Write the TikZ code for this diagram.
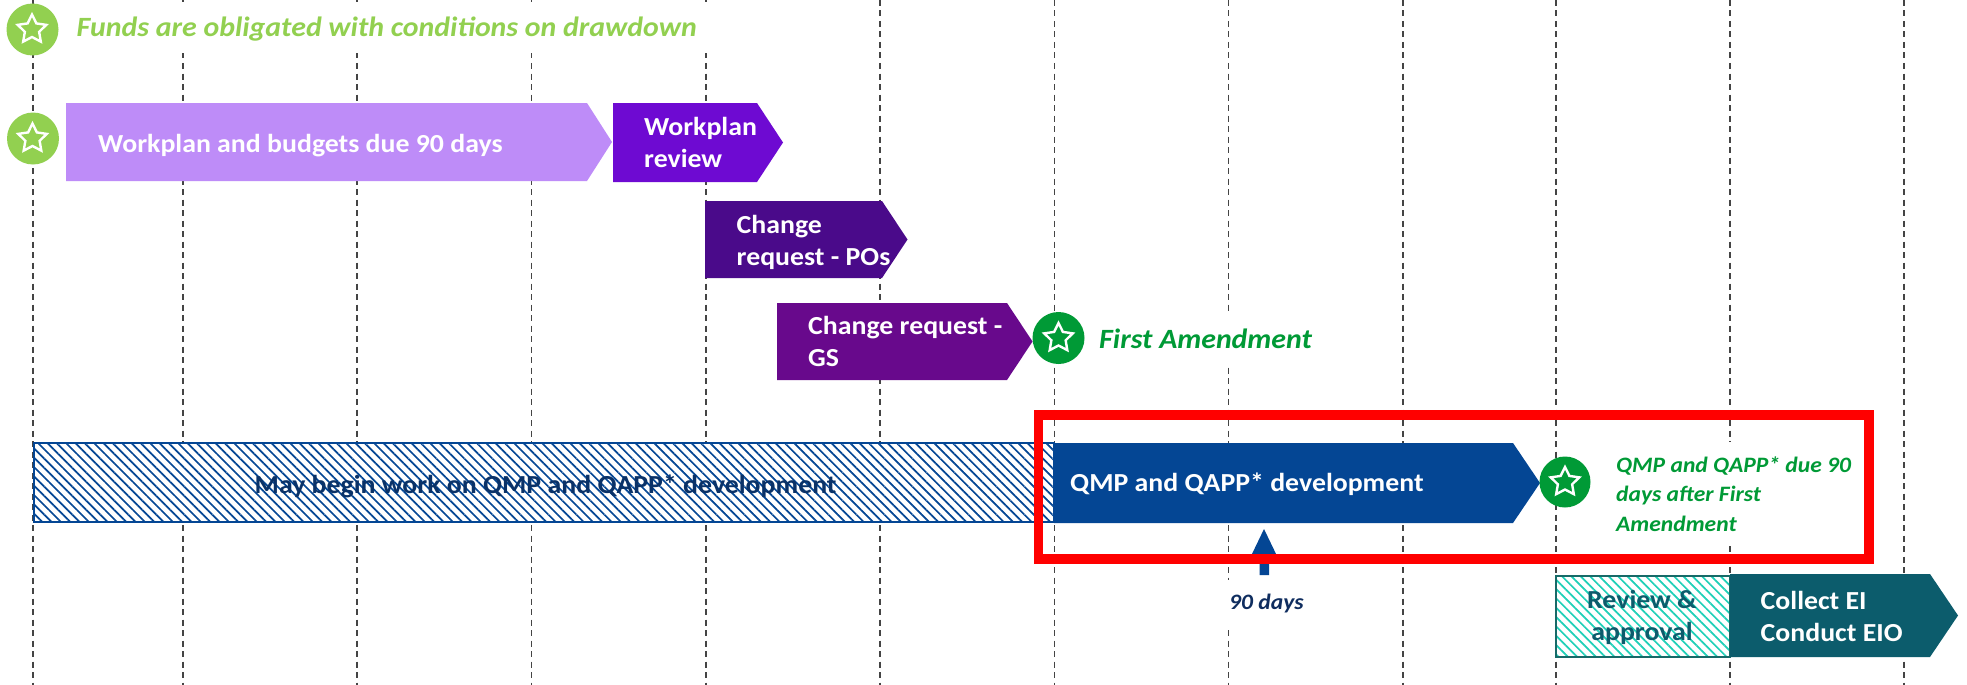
\documentclass[tikz,border=0pt]{standalone}
\usepackage{fontspec}
\setmainfont{Carlito}[FakeStretch=1.07]
\usetikzlibrary{shapes.geometric,patterns.meta}
\definecolor{lgreen}{HTML}{92D050}
\definecolor{dgreen}{HTML}{009A36}
\definecolor{lilac}{HTML}{BE8CF8}
\definecolor{vio}{HTML}{6E0AD2}
\definecolor{dvio}{HTML}{4A0A8A}
\definecolor{pur}{HTML}{68098C}
\definecolor{qblue}{HTML}{044694}
\definecolor{qnavy}{HTML}{0A3268}
\definecolor{tealb}{HTML}{0C5C6C}
\definecolor{tealh}{HTML}{1FD0B8}
\definecolor{tealo}{HTML}{176A68}
\definecolor{navy}{HTML}{0F2D5F}
\definecolor{gline}{HTML}{444444}
\tikzset{
  x=1pt,y=-1pt,
  gridline/.style={draw=gline,line width=1.1pt,dash pattern=on 6pt off 4.5pt},
  mask/.style={fill=white,draw=none},
  starbg/.style={circle,inner sep=0pt,minimum width=#1,minimum height=#1},
  starfg/.style={star,star points=5,star point ratio=2,inner sep=0pt,minimum size=30pt,draw=white,line width=2.4pt,line join=miter},
  barlabel/.style={text=white,font=\fontsize{26}{32}\selectfont\bfseries,inner sep=0pt,align=left},
  itlabel/.style={font=\fontsize{27.9}{30}\selectfont\bfseries\itshape,inner sep=0pt},
  hatchlines/.style={pattern={Lines[angle=-45,distance=6.6pt,line width=1.7pt]}},
}
\newcommand{\chevbar}[6]{\fill[#6] (#1,#4) -- (#2,#4) -- (#3,{(#4+#5)/2}) -- (#2,#5) -- (#1,#5) -- cycle;}
\begin{document}
\begin{tikzpicture}
\useasboundingbox (0,0) rectangle (1967,685);
\fill[white] (0,0) rectangle (1967,685);
% grid
\foreach \gx in {33,183,357,531.5,706,880,1054.5,1228.5,1403,1556,1730,1904}
  \draw[gridline] (\gx,0) -- (\gx,685);
% white boxes behind the free texts
\fill[mask] (70,2) rectangle (712,53);
\fill[mask] (1090,311) rectangle (1320,366);
\fill[mask] (1610,442) rectangle (1860,546);
\fill[mask] (1215,580) rectangle (1310,628);
% bars
\chevbar{66}{587}{612}{103}{181}{lilac}
\chevbar{613}{757}{783}{103}{182}{vio}
\chevbar{705}{882}{907.5}{201}{278}{dvio}
\chevbar{777}{1007}{1032.5}{303}{380}{pur}
\fill[white] (34,443) rectangle (1054,521.5);
\fill[hatchlines,pattern color=qblue] (34,443) rectangle (1054,521.5);
\draw[qblue,line width=2pt] (34,443) rectangle (1054,521.5);
\chevbar{1054}{1513}{1540}{443}{523}{qblue}
\fill[white] (1556,576) rectangle (1730,656.5);
\fill[hatchlines,pattern color=tealh] (1556,576) rectangle (1730,656.5);
\draw[tealo,line width=2pt] (1556,576) rectangle (1730,656.5);
\chevbar{1730}{1930}{1958}{574}{657}{tealb}
% up arrow
\fill[qblue] (1264,529) -- (1277,556) -- (1269,556) -- (1269,575) -- (1259.5,575) -- (1259.5,556) -- (1251,556) -- cycle;
% red frame
\draw[red,line width=9.7pt,line join=miter] (1038.5,415) rectangle (1869,559);
% stars
\node[starbg=52pt,fill=lgreen] (s1bg) at (32.5,29.5) {};
\node[starfg] (s1) at (32,29.5) {};
\node[starbg=52pt,fill=lgreen] (s2bg) at (33,138.5) {};
\node[starfg] (s2) at (32.5,138.5) {};
\node[starbg=52pt,fill=dgreen] (s3bg) at (1058.5,338) {};
\node[starfg] (s3) at (1058.5,338) {};
\node[starbg=51pt,fill=dgreen] (s4bg) at (1565,482) {};
\node[starfg] (s4) at (1565,482) {};
% labels
\node[itlabel,text=lgreen,anchor=base west] (t1) at (76.5,37) {Funds are obligated with conditions on drawdown};
\node[barlabel,anchor=base west] (t2) at (98,152) {Workplan and budgets due 90 days};
\node[barlabel,anchor=west] (t3) at (644,142.5) {Workplan\\review};
\node[barlabel,anchor=west] (t4) at (736.5,242.5) {Change\\request - POs};
\node[barlabel,anchor=west] (t5) at (808,341.5) {Change request -\\GS};
\node[itlabel,text=dgreen,anchor=base west] (t6) at (1099,348) {First Amendment};
\node[barlabel,text=qnavy,anchor=base west] (t7) at (254.5,493) {May begin work on QMP and QAPP* development};
\node[barlabel,anchor=base west] (t8) at (1070,491.5) {QMP and QAPP* development};
\node[itlabel,text=dgreen,anchor=west,align=left,font=\fontsize{22}{29.5}\selectfont\bfseries\itshape] (t9) at (1616,494) {QMP and QAPP* due 90\\days after First\\Amendment};
\node[itlabel,text=navy,anchor=base west,font=\fontsize{22}{24}\selectfont\bfseries\itshape] (t10) at (1229,609) {90 days};
\node[barlabel,text=tealb,align=center,anchor=center] (t11) at (1642,617.5) {Review \&\\approval};
\node[barlabel,anchor=west] (t12) at (1760.5,616) {Collect EI\\Conduct EIO};
\end{tikzpicture}
\end{document}
